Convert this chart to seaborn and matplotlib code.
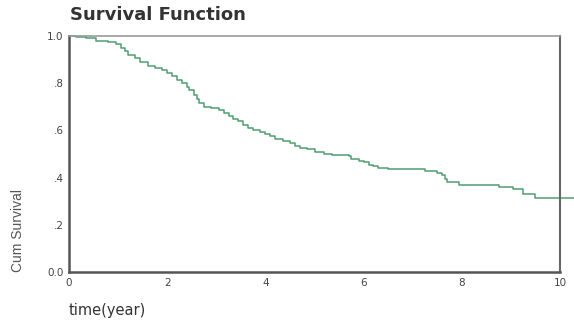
import numpy as np
import pandas as pd
import seaborn as sns
import matplotlib.pyplot as plt

# Kaplan-Meier steps
time_year = [0.0, 0.15, 0.35, 0.55, 0.8, 0.95, 1.05, 1.15, 1.2, 1.35, 1.45, 1.6,
             1.75, 1.9, 2.0, 2.1, 2.2, 2.3, 2.4, 2.45, 2.55, 2.6, 2.65, 2.75,
             2.9, 3.05, 3.15, 3.25, 3.35, 3.45, 3.55, 3.65, 3.75, 3.9, 4.0, 4.1,
             4.2, 4.35, 4.5, 4.6, 4.7, 4.85, 5.0, 5.2, 5.35, 5.7, 5.75, 5.9,
             6.0, 6.1, 6.2, 6.3, 6.5, 7.25, 7.5, 7.6, 7.65, 7.7, 7.95, 8.75,
             9.05, 9.25, 9.5, 10.3]
cum_survival = [1.0, 0.995, 0.99, 0.98, 0.975, 0.965, 0.95, 0.935, 0.92, 0.905, 0.89, 0.875,
                0.865, 0.855, 0.845, 0.83, 0.815, 0.80, 0.785, 0.77, 0.75, 0.735, 0.715, 0.70,
                0.695, 0.685, 0.675, 0.66, 0.65, 0.64, 0.625, 0.61, 0.60, 0.595, 0.585, 0.575,
                0.565, 0.555, 0.545, 0.535, 0.525, 0.52, 0.51, 0.50, 0.495, 0.49, 0.48, 0.47,
                0.465, 0.455, 0.45, 0.44, 0.435, 0.43, 0.42, 0.41, 0.395, 0.38, 0.37, 0.36,
                0.35, 0.33, 0.315, 0.31]
y_ticks = [0.0, 0.2, 0.4, 0.6, 0.8, 1.0]
y_tick_labels = ["0.0", ".2", ".4", ".6", ".8", "1.0"]
x_ticks = [0, 2, 4, 6, 8, 10]

df = pd.DataFrame({"time": time_year, "surv": cum_survival})

sns.set_style("white")
plt.rcParams["font.family"] = ["DejaVu Sans"]

fig = plt.figure(figsize=(5.74, 3.2), dpi=100)
ax = fig.add_axes([69 / 574, 48 / 320, 491 / 574, 236 / 320])

sns.lineplot(data=df, x="time", y="surv", ax=ax, color="#4f9e70", linewidth=1.1,
             drawstyle="steps-post", clip_on=False)

ax.set_xlim(0, 10)
ax.set_ylim(0, 1)
ax.set_xticks(x_ticks)
ax.set_xticklabels([str(t) for t in x_ticks])
ax.set_yticks(y_ticks)
ax.set_yticklabels(y_tick_labels)
ax.tick_params(axis="both", direction="out", length=2.5, width=1.5, color="#202020",
               labelsize=7.5, labelcolor="#444444", pad=1.5)

for side in ["left", "bottom"]:
    ax.spines[side].set_color("#555555")
    ax.spines[side].set_linewidth(1.8)
ax.spines["top"].set_color("#999999")
ax.spines["top"].set_linewidth(1.2)
ax.spines["right"].set_color("#666666")
ax.spines["right"].set_linewidth(1.5)

ax.set_xlabel("")
ax.set_ylabel("")
fig.text(70 / 574, 1 - 15 / 320, "Survival Function", fontsize=13, fontweight="bold",
         color="#333333", ha="left", va="center")
fig.text(69 / 574, 1 - 310 / 320, "time(year)", fontsize=10.5, color="#333333",
         ha="left", va="center")
fig.text(18 / 574, 1 - 230 / 320, "Cum Survival", fontsize=10, color="#555555",
         rotation=90, ha="center", va="center", family="Liberation Sans")

fig.savefig("out.png", dpi=100)
